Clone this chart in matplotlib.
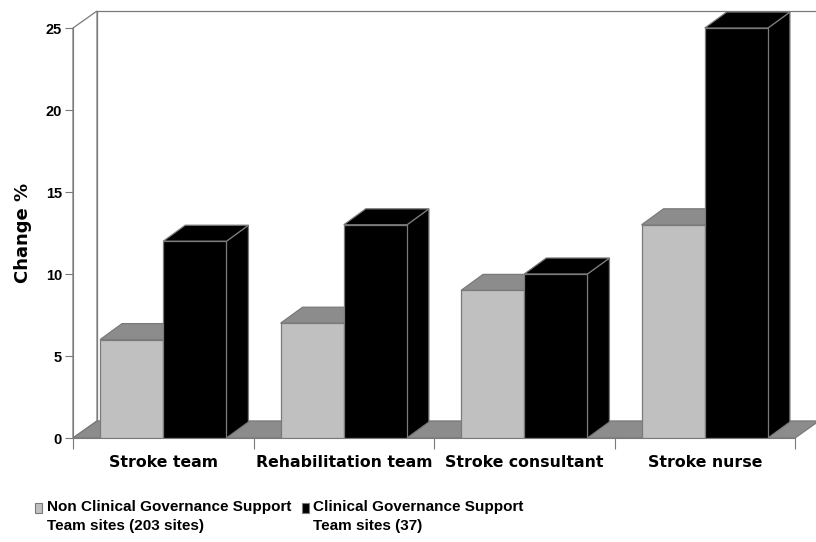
import matplotlib
matplotlib.use("Agg")
import matplotlib.pyplot as plt
from matplotlib.patches import Polygon, Rectangle

categories = ["Stroke team", "Rehabilitation team", "Stroke consultant", "Stroke nurse"]
non_cgst = [6, 7, 9, 13]     # Non Clinical Governance Support Team sites
cgst = [12, 13, 10, 25]      # Clinical Governance Support Team sites
series_labels = ["Non Clinical Governance Support\nTeam sites (203 sites)",
                 "Clinical Governance Support\nTeam sites (37)"]
yticks = [0, 5, 10, 15, 20, 25]

LIGHT, LIGHT_TOP = "#c0c0c0", "#8c8c8c"
DARK = "#000000"
EDGE = "#7a7a7a"
FLOOR = "#8c8c8c"

fig = plt.figure(figsize=(8.16, 5.42), dpi=100)
ax = fig.add_axes([73/816, 104/542, 722/816, 410/542])
ax.set_xlim(-0.5, 3.5)
ax.set_ylim(0, 25)

# depth offsets (data units) for the walls and for the bars
wdx, wdy = 24/180.5, 17/16.4
bdx, bdy = 22/180.5, 16/16.4
bw = 0.35

def poly(pts, fc, z, ec=EDGE, lw=0.9):
    ax.add_patch(Polygon(pts, closed=True, fc=fc, ec=ec, lw=lw, zorder=z, clip_on=False))

# back wall, left wall, floor
x0, x1, top = -0.5, 3.5, 25
poly([(x0+wdx, wdy), (x1+wdx, wdy), (x1+wdx, top+wdy), (x0+wdx, top+wdy)], "white", 1)
poly([(x0, 0), (x0+wdx, wdy), (x0+wdx, top+wdy), (x0, top)], "white", 1)
poly([(x0, 0), (x1, 0), (x1+wdx, wdy), (x0+wdx, wdy)], FLOOR, 2)

z = 3
for i in range(len(categories)):
    for xs, v, front, topc in ((i-bw, non_cgst[i], LIGHT, LIGHT_TOP), (i, cgst[i], DARK, DARK)):
        xr = xs + bw
        poly([(xr, 0), (xr+bdx, bdy), (xr+bdx, v+bdy), (xr, v)], topc, z)
        poly([(xs, v), (xr, v), (xr+bdx, v+bdy), (xs+bdx, v+bdy)], topc, z)
        ax.bar(xs, v, width=bw, align="edge", color=front, edgecolor=EDGE, lw=0.9, zorder=z+0.5)
        z += 1

for s in ("top", "right"):
    ax.spines[s].set_visible(False)
ax.spines["left"].set_color(EDGE)
ax.spines["bottom"].set_color(EDGE)
ax.spines["left"].set_zorder(50)

ax.set_yticks(yticks)
ax.set_yticklabels([str(t) for t in yticks], fontsize=10.5, fontweight="bold", family="Liberation Sans")
ax.tick_params(axis="y", length=6, color=EDGE, pad=2)
ax.set_xticks([-0.5, 0.5, 1.5, 2.5, 3.5])
ax.set_xticklabels([])
ax.tick_params(axis="x", which="major", length=8, color=EDGE)
ax.set_xticks(range(len(categories)), minor=True)
ax.set_xticklabels(categories, minor=True, fontsize=11.3, fontweight="bold", family="DejaVu Sans")
ax.tick_params(axis="x", which="minor", length=0, pad=12)
ax.set_ylabel("Change %", fontsize=13, fontweight="bold", labelpad=10)

# legend
for (mx, tx), lab, col in zip(((35, 47), (302, 313)), series_labels, (LIGHT, DARK)):
    fig.patches.append(Rectangle((mx/816, 1-513/542), 7/816, 10/542, transform=fig.transFigure,
                                 fc=col, ec=EDGE, lw=0.8, figure=fig))
    fig.text(tx/816, 1-500/542, lab, fontsize=11, fontweight="bold", family="Liberation Sans",
             va="top", ha="left", linespacing=1.45)

fig.savefig("out.png", dpi=100, facecolor="white")
